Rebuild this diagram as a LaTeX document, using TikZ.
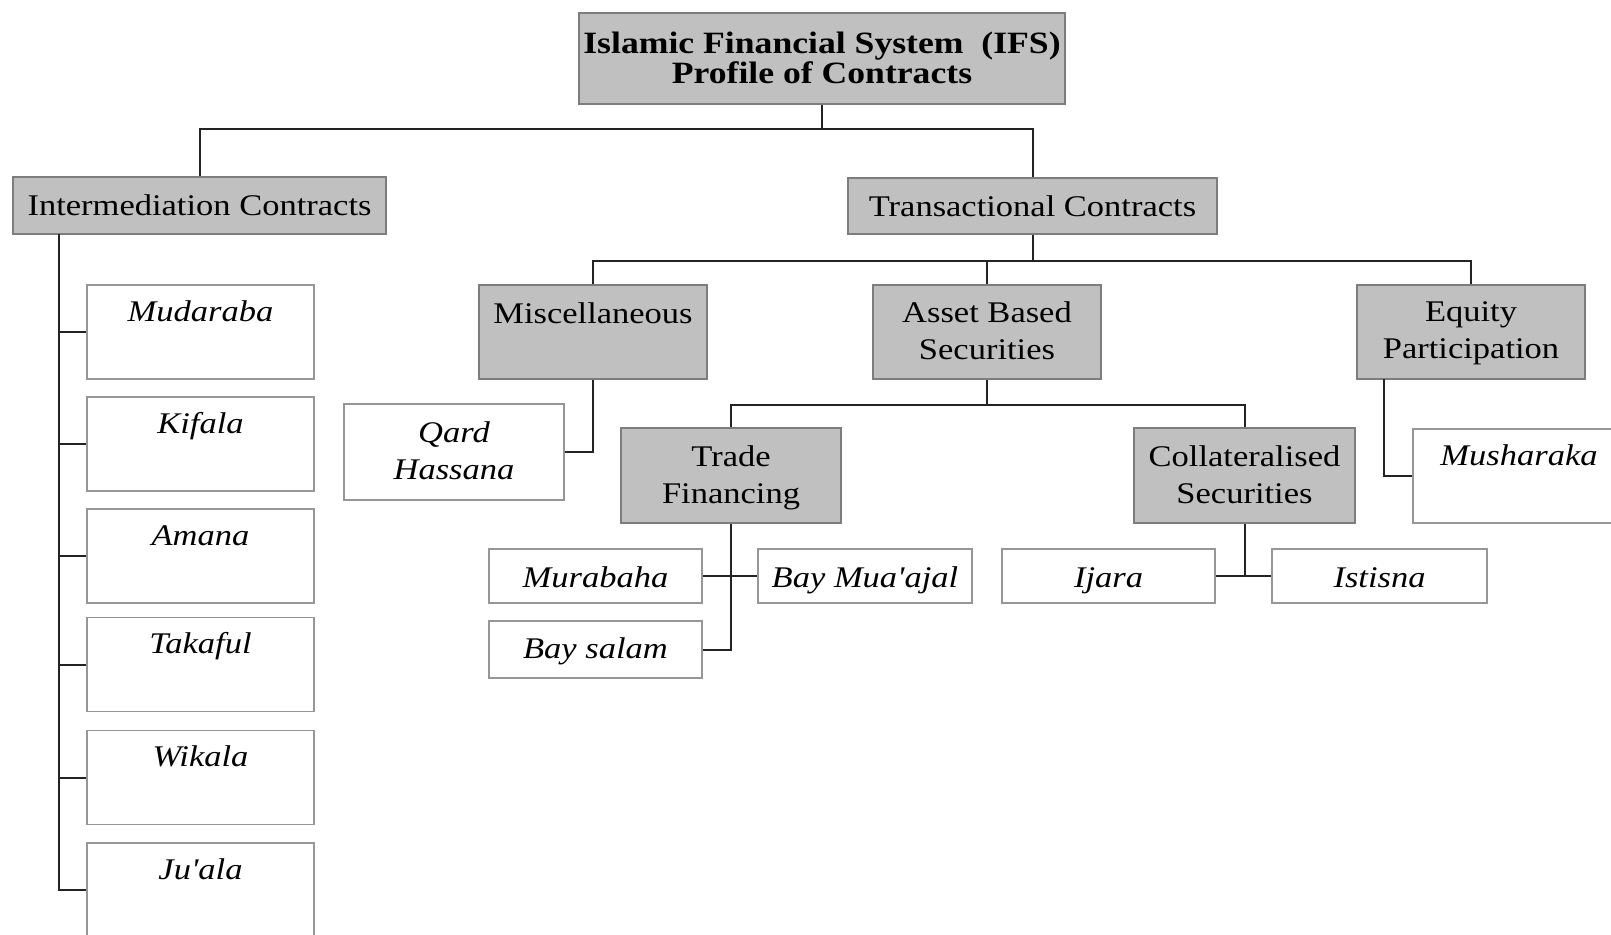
\documentclass[tikz,border=0pt]{standalone}
\usepackage{fontspec}
\setmainfont[FakeStretch=1.15,Ligatures=TeXOff]{Liberation Serif}
\definecolor{boxgray}{RGB}{192,192,192}
\definecolor{edgegray}{RGB}{125,125,125}
\definecolor{wedge}{RGB}{150,150,150}
\definecolor{linecol}{RGB}{35,35,35}
\newcommand{\ifsbox}[4]{\parbox[c][#2pt][t]{#1pt}{\centering\fontsize{30}{37}\selectfont\rule{0pt}{#3pt}#4}}
\tikzset{
  gbox/.style={draw=edgegray, fill=boxgray, line width=1.8pt, inner sep=0pt},
  wbox/.style={draw=wedge, fill=white, line width=1.6pt, inner sep=0pt, font=\itshape},
  conn/.style={draw=linecol, line width=2pt}
}
\begin{document}
\begin{tikzpicture}[x=1pt,y=-1pt]
\useasboundingbox (0,0) rectangle (1611,934);
\clip (0,0) rectangle (1611,934);
\fill[white] (0,0) rectangle (1611,934);
% top
\node[gbox] (top) at (822,58.5) {\parbox[c][91pt][t]{486pt}{\centering\fontsize{31}{30}\selectfont\bfseries\rule{0pt}{40pt}Islamic Financial System\ \ (IFS)\\ Profile of Contracts}};
% level 1
\node[gbox] (inter) at (199.5,205.5) {\ifsbox{373}{57}{38}{Intermediation Contracts}};
\node[gbox] (trans) at (1032.5,206) {\ifsbox{369}{56}{38}{Transactional Contracts}};
% intermediation leaves
\node[wbox] (mud) at (200.5,332) {\ifsbox{227}{94}{36}{Mudaraba}};
\node[wbox] (kif) at (200.5,444) {\ifsbox{227}{94}{36}{Kifala}};
\node[wbox] (ama) at (200.5,556) {\ifsbox{227}{94}{36}{Amana}};
\node[wbox] (tak) at (200.5,664.5) {\ifsbox{227}{94}{36}{Takaful}};
\node[wbox] (wik) at (200.5,777.5) {\ifsbox{227}{94}{36}{Wikala}};
\node[wbox] (jua) at (200.5,890) {\ifsbox{227}{94}{36}{Ju'ala}};
% transactional level
\node[gbox] (misc) at (593,332) {\ifsbox{228}{94}{38}{Miscellaneous}};
\node[gbox] (asset) at (987,332) {\ifsbox{228}{94}{37}{Asset Based\\ Securities}};
\node[gbox] (equity) at (1471,332) {\ifsbox{228}{94}{36}{Equity\\ Participation}};
\node[wbox] (qard) at (454,452) {\ifsbox{220}{96}{38}{Qard\\ Hassana}};
\node[gbox] (trade) at (731,475.5) {\ifsbox{220}{95}{38}{Trade\\ Financing}};
\node[gbox] (coll) at (1244.5,475.5) {\ifsbox{221}{95}{38}{Collateralised\\ Securities}};
\node[wbox] (mush) at (1519,476) {\ifsbox{212}{94}{36}{Musharaka}};
\draw[wedge, line width=1.6pt] (mush.north east) -- ++(40,0) (mush.south east) -- ++(40,0);
\node[wbox] (mura) at (595.5,576) {\ifsbox{213}{54}{38}{Murabaha}};
\node[wbox] (baym) at (865,576) {\ifsbox{214}{54}{38}{Bay Mua'ajal}};
\node[wbox] (bays) at (595.5,649.5) {\ifsbox{213}{57}{37}{Bay salam}};
\node[wbox] (ijara) at (1108.5,576) {\ifsbox{213}{54}{38}{Ijara}};
\node[wbox] (ist) at (1379.5,576) {\ifsbox{215}{54}{38}{Istisna}};
% connectors
\draw[conn] (top.south) -- ++(0,24) -| (inter.north);
\draw[conn] (top.south) -- ++(0,24) -| (trans.north);
\coordinate (trunk) at (59,234);
\foreach \n in {mud,kif,ama,tak,wik,jua} \draw[conn] (trunk) |- (\n.west);
\draw[conn] (trans.south) -- ++(0,26) -| (misc.north);
\draw[conn] (trans.south) -- ++(0,26) -| (asset.north);
\draw[conn] (trans.south) -- ++(0,26) -| (equity.north);
\draw[conn] (misc.south) |- (qard.east);
\draw[conn] (asset.south) -- ++(0,25) -| (trade.north);
\draw[conn] (asset.south) -- ++(0,25) -| (coll.north);
\coordinate (eqd) at (1384,379);
\draw[conn] (eqd) |- (mush.west);
\draw[conn] (trade.south) |- (bays.east);
\draw[conn] (mura.east) -- (baym.west);
\draw[conn] (coll.south) -- (coll.south |- ijara.east);
\draw[conn] (ijara.east) -- (ist.west);
\end{tikzpicture}
\end{document}
